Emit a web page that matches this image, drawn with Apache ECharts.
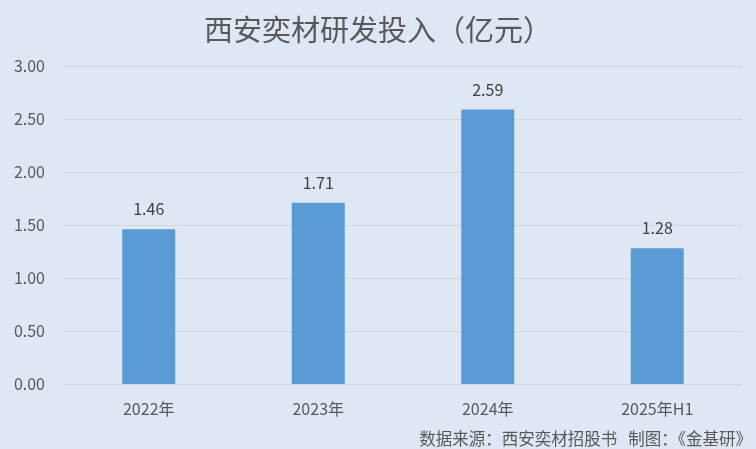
<!DOCTYPE html>
<html>
<head>
<meta charset="utf-8">
<script src="https://cdn.jsdelivr.net/npm/echarts@6/dist/echarts.min.js"></script>
<style>
html, body { margin: 0; padding: 0; background: #dee8f4; }
#chart { width: 756px; height: 449px; }
</style>
</head>
<body>
<div id="chart"></div>
<script>
// data
const categories = ['2022年', '2023年', '2024年', '2025年H1'];
const rdSpend = [1.46, 1.71, 2.59, 1.28];
const yMin = 0, yMax = 3, yStep = 0.5;

const textColor = '#595959';
const fontFamily = '"Noto Sans CJK SC", "Noto Sans", sans-serif';

const myChart = echarts.init(document.getElementById('chart'));
myChart.setOption({
    backgroundColor: '#dee8f4',
    textStyle: { fontFamily: fontFamily },
    title: {
        text: '西安奕材研发投入（亿元）',
        left: 'center',
        top: 10,
        textStyle: { color: textColor, fontSize: 29, fontWeight: 'normal', fontFamily: fontFamily }
    },
    graphic: [{
        type: 'text',
        right: 4,
        bottom: 2,
        style: {
            text: '数据来源：西安奕材招股书   制图：《金基研》',
            fill: textColor,
            fontSize: 16.5,
            fontFamily: fontFamily
        }
    }],
    grid: { left: 64, right: 14, top: 66, bottom: 65 },
    xAxis: {
        type: 'category',
        data: categories,
        axisTick: { show: false },
        axisLine: { lineStyle: { color: '#d0d7de' } },
        axisLabel: { color: textColor, fontSize: 16, margin: 17 }
    },
    yAxis: {
        type: 'value',
        min: yMin,
        max: yMax,
        interval: yStep,
        axisLine: { show: false },
        axisTick: { show: false },
        splitLine: { lineStyle: { color: '#d0d7de' } },
        axisLabel: {
            color: textColor,
            fontSize: 16,
            margin: 19,
            formatter: function (v) { return v.toFixed(2); }
        }
    },
    series: [{
        type: 'bar',
        data: rdSpend,
        barWidth: 53,
        itemStyle: { color: '#5b9bd5' },
        label: {
            show: true,
            position: 'top',
            distance: 12,
            color: '#404040',
            fontSize: 16,
            formatter: function (p) { return p.value.toFixed(2); }
        }
    }]
});
</script>
</body>
</html>
